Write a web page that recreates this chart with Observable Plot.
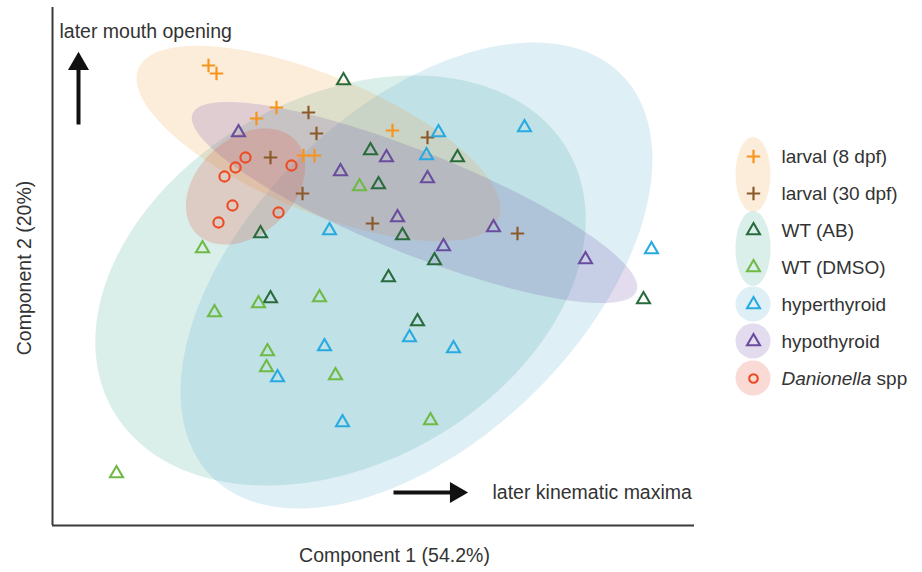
<!DOCTYPE html>
<html>
<head>
<meta charset="utf-8">
<script src="https://cdn.jsdelivr.net/npm/d3@7"></script>
<script src="https://cdn.jsdelivr.net/npm/@observablehq/plot@0.6"></script>
<style>
  body { margin: 0; background: #fff; }
  #wrap { position: relative; width: 922px; height: 572px; font-family: "Liberation Sans", Arial, Helvetica, sans-serif; }
  #chart, #legend { position: absolute; top: 0; left: 0; }
  #legend { left: 720px; top: 120px; }
</style>
</head>
<body>
<div id="wrap"><div id="chart"></div><div id="legend"></div></div>
<script>
// ---- categories ----
const groups = ["larval (8 dpf)", "larval (30 dpf)", "WT (AB)", "WT (DMSO)", "hyperthyroid", "hypothyroid", "Danionella spp"];

// ---- point scores (Component 1, Component 2) ----
const larval8X  = [-1.44, -1.36, -0.96, -0.76, -0.49, -0.38, 0.40];
const larval8Y  = [ 2.10,  2.02,  1.57,  1.68,  1.20,  1.20, 1.45];
const larval30X = [-0.44, -0.36, -0.82, -0.50, 0.75, 0.20, 1.65];
const larval30Y = [ 1.63,  1.42,  1.18,  0.82, 1.38, 0.52, 0.42];
const wtABX   = [-0.09, 0.18, 1.05, 0.26, -0.92, 0.50, 0.82, 0.36, -0.82, 0.65, 2.91];
const wtABY   = [ 1.95, 1.25, 1.18, 0.91,  0.42, 0.40, 0.15, -0.02, -0.23, -0.46, -0.24];
const wtDMSOX = [0.07, -1.50, -1.38, -0.94, -0.33, -0.85, -0.86, -0.17, 0.78, -2.36];
const wtDMSOY = [0.89,  0.27, -0.37, -0.28, -0.22, -0.76, -0.92, -1.00, -1.45, -1.98];
const hyperX = [0.86, 0.74, 1.72, -0.23, 2.99, 0.57, 1.01, -0.28, -0.75, -0.10];
const hyperY = [1.43, 1.20, 1.48,  0.45, 0.26, -0.62, -0.73, -0.71, -1.02, -1.47];
const hypoX  = [-1.14, 0.34, -0.12, 0.75, 0.45, 0.91, 1.41, 2.33];
const hypoY  = [ 1.43, 1.18,  1.04, 0.97, 0.58, 0.29, 0.48, 0.16];
const danioX = [-1.07, -1.17, -1.28, -0.61, -1.20, -1.34, -0.74];
const danioY = [ 1.18,  1.08,  0.99,  1.10,  0.70,  0.53,  0.63];

// ---- group ellipses (centre, semi-axes, tilt in degrees) ----
const ellipseGroups = ["WT", "hyperthyroid", "larval", "hypothyroid", "Danionella"];
const ellipseCX    = [-0.12, 0.64, -0.34, 0.62, -1.07];
const ellipseCY    = [-0.05, 0.00,  1.32, 0.73,  0.89];
const ellipseA     = [ 2.62, 2.87,  1.95, 2.39,  0.68];
const ellipseB     = [ 1.83, 1.66,  0.68, 0.51,  0.48];
const ellipseAngle = [ 29.5, 44.3, -22.6, -21.8, 42.8];

// ---- legend rows covered by each ellipse swatch ----
const legendBgGroup = ["larval", "WT", "hyperthyroid", "hypothyroid", "Danionella"];
const legendBgStart = ["larval (8 dpf)", "WT (AB)", "hyperthyroid", "hypothyroid", "Danionella spp"];
const legendBgEnd   = ["larval (30 dpf)", "WT (DMSO)", "hyperthyroid", "hypothyroid", "Danionella spp"];

// ---- annotations ----
const arrowX1 = [-2.74, 0.41];
const arrowY1 = [ 1.51, -2.17];
const arrowX2 = [-2.74, 1.00];
const arrowY2 = [ 2.09, -2.17];
const arrowHeadX = [-2.74, 1.035];
const arrowHeadY = [ 2.115, -2.17];
const arrowHeadRotate = [0, 90];
const noteText = ["later mouth opening", "later kinematic maxima"];
const noteX = [-2.93, 1.40];
const noteY = [ 2.44, -2.17];

// ---- styles ----
const groupColors  = ["#f7941d", "#8b5a2b", "#2a6b3c", "#6fba45", "#27aae1", "#6a4c9e", "#ee4b24"];
const groupSymbols = ["plus", "plus", "triangle", "triangle", "triangle", "triangle", "circle"];
const ellipseFill = {WT: "#48a898", hyperthyroid: "#5aaed4", larval: "#f0a040", hypothyroid: "#7050a8", Danionella: "#e4553a"};
const ellipseOpacity = {WT: 0.2, hyperthyroid: 0.2, larval: 0.19, hypothyroid: 0.2, Danionella: 0.22};
const inkColor = "#333";
const font = "Liberation Sans, Arial, Helvetica, sans-serif";

// ---- build tables ----
const seriesX = [larval8X, larval30X, wtABX, wtDMSOX, hyperX, hypoX, danioX];
const seriesY = [larval8Y, larval30Y, wtABY, wtDMSOY, hyperY, hypoY, danioY];
const points = [];
groups.forEach((g, i) => seriesX[i].forEach((x, j) => points.push({group: g, x, y: seriesY[i][j], symbol: groupSymbols[i]})));

const ellipsePts = [];
ellipseGroups.forEach((g, i) => {
  const th = ellipseAngle[i] * Math.PI / 180;
  for (let k = 0; k < 360; k += 2) {
    const t = k * Math.PI / 180;
    const u = ellipseA[i] * Math.cos(t), v = ellipseB[i] * Math.sin(t);
    ellipsePts.push({group: g, x: ellipseCX[i] + u * Math.cos(th) - v * Math.sin(th), y: ellipseCY[i] + u * Math.sin(th) + v * Math.cos(th)});
  }
});

const arrows = arrowX1.map((_, i) => ({x1: arrowX1[i], y1: arrowY1[i], x2: arrowX2[i], y2: arrowY2[i], hx: arrowHeadX[i], hy: arrowHeadY[i], rot: arrowHeadRotate[i]}));
const notes = noteText.map((t, i) => ({text: t, x: noteX[i], y: noteY[i]}));

const chart = Plot.plot({
  width: 922, height: 572,
  marginLeft: 52, marginRight: 228, marginTop: 7, marginBottom: 47,
  x: {domain: [-3, 3.42], axis: null},
  y: {domain: [-2.5, 2.68], axis: null},
  color: {domain: groups, range: groupColors},
  symbol: {domain: groups, range: groupSymbols},
  style: {fontFamily: font, color: inkColor, background: "#fff"},
  marks: [
    ...ellipseGroups.map(g => Plot.line(ellipsePts.filter(d => d.group === g), {
      x: "x", y: "y", curve: "linear-closed", fill: ellipseFill[g], fillOpacity: ellipseOpacity[g], stroke: "none"
    })),
    Plot.dot(points.filter(d => d.symbol === "plus"), {x: "x", y: "y", stroke: "group", symbol: "group", r: 4.4, strokeWidth: 2.2, fill: "none"}),
    Plot.dot(points.filter(d => d.symbol === "triangle"), {x: "x", y: "y", stroke: "group", symbol: "group", r: 4.8, strokeWidth: 2.1, fill: "none"}),
    Plot.dot(points.filter(d => d.symbol === "circle"), {x: "x", y: "y", stroke: "group", symbol: "group", r: 5.1, strokeWidth: 2.1, fill: "none"}),
    Plot.ruleX([-3], {stroke: "#3a3a3a", strokeWidth: 2}),
    Plot.ruleY([-2.5], {stroke: "#3a3a3a", strokeWidth: 2}),
    Plot.link(arrows, {x1: "x1", y1: "y1", x2: "x2", y2: "y2", stroke: "#111", strokeWidth: 4}),
    Plot.dot(arrows, {x: "hx", y: "hy", rotate: "rot", symbol: "triangle", r: 7.8, fill: "#111", stroke: "none"}),
    Plot.text(notes, {x: "x", y: "y", text: "text", textAnchor: "start", fontSize: 19.5, fill: inkColor}),
    Plot.text(["Component 1 (54.2%)"], {frameAnchor: "bottom", dx: 21, dy: 36, textAnchor: "middle", fontSize: 19.5, fill: inkColor}),
    Plot.text(["Component 2 (20%)"], {frameAnchor: "left", dx: -28, dy: 1.5, rotate: -90, textAnchor: "middle", fontSize: 19.5, fill: inkColor})
  ]
});
document.getElementById("chart").appendChild(chart);

// ---- legend (its own small Plot) ----
const legendBg = legendBgGroup.map((g, i) => ({g, start: legendBgStart[i], end: legendBgEnd[i]}));
const legendRows = groups.map((g, i) => ({g, symbol: groupSymbols[i]}));

const legend = Plot.plot({
  width: 200, height: 290, margin: 0,
  x: {domain: [0, 1], range: [33, 61], axis: null},
  y: {type: "point", domain: groups, range: [34, 260], padding: 0, axis: null},
  color: {domain: groups, range: groupColors},
  symbol: {domain: groups, range: groupSymbols},
  style: {fontFamily: font, color: inkColor, background: "transparent", overflow: "visible"},
  marks: [
    ...legendBg.map(d => Plot.rect([d], {
      x1: () => 0, x2: () => 0, y1: "start", y2: "end",
      insetLeft: -17.5, insetRight: -17.5,
      insetTop: d.start === d.end ? -17.5 : -19, insetBottom: d.start === d.end ? -17.5 : -19,
      rx: 17.5, ry: d.start === d.end ? 17.5 : 38,
      fill: ellipseFill[d.g], fillOpacity: ellipseOpacity[d.g]
    })),
    Plot.dot(legendRows.filter(d => d.symbol === "plus"), {x: () => 0, y: "g", stroke: "g", symbol: "g", r: 4.4, strokeWidth: 2.2, fill: "none"}),
    Plot.dot(legendRows.filter(d => d.symbol === "triangle"), {x: () => 0, y: "g", stroke: "g", symbol: "g", r: 4.8, strokeWidth: 2.1, fill: "none"}),
    Plot.dot(legendRows.filter(d => d.symbol === "circle"), {x: () => 0, y: "g", stroke: "g", symbol: "g", r: 4.3, strokeWidth: 2.1, fill: "none"}),
    Plot.text(legendRows, {x: () => 1, y: "g", text: "g", textAnchor: "start", fontSize: 19, fill: inkColor})
  ]
});
document.getElementById("legend").appendChild(legend);

// italicise the genus name in the legend
d3.select(legend).selectAll("text").each(function () {
  if (this.textContent === "Danionella spp") {
    this.textContent = "";
    d3.select(this).append("tspan").attr("font-style", "italic").text("Danionella");
    d3.select(this).append("tspan").text(" spp");
  }
});
</script>
</body>
</html>
